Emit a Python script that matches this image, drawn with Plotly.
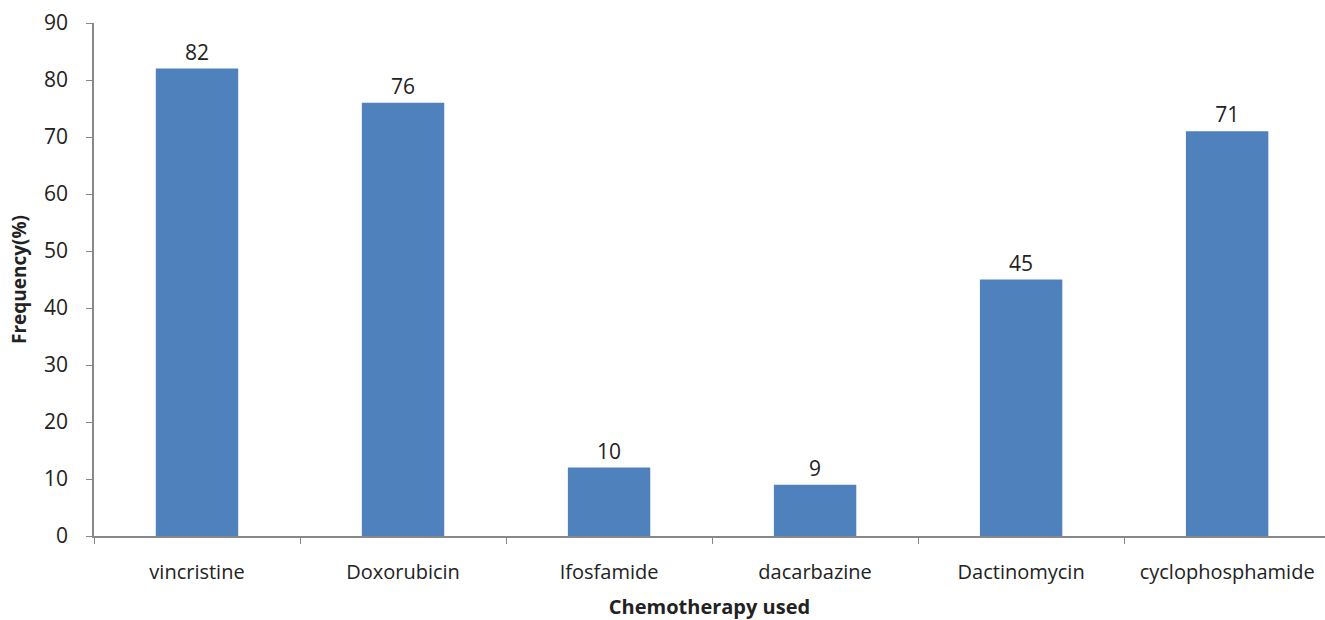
import plotly.graph_objects as go

categories = ["vincristine", "Doxorubicin", "Ifosfamide", "dacarbazine", "Dactinomycin", "cyclophosphamide"]
values = [82, 76, 12, 9, 45, 71]
label_text = ["82", "76", "10", "9", "45", "71"]
y_ticks = [0, 10, 20, 30, 40, 50, 60, 70, 80, 90]

fig = go.Figure(go.Bar(
    x=categories, y=values, text=label_text, textposition="outside",
    marker=dict(color="#4F81BD", line=dict(width=0)),
    textfont=dict(family="Open Sans", size=21, color="#222222"),
    width=0.4, cliponaxis=False,
))

fig.update_layout(
    width=1325, height=620,
    margin=dict(l=94, r=0, t=23, b=84),
    plot_bgcolor="white", paper_bgcolor="white",
    showlegend=False,
    font=dict(family="Open Sans", size=20, color="#222222"),
)
fig.update_xaxes(
    range=[-0.5, 5.475],
    showline=True, linecolor="#888888", linewidth=1.5,
    ticks="outside", tickson="boundaries", ticklen=6, tickcolor="#888888",
    tickfont=dict(size=20), showgrid=False, ticklabelstandoff=17,
    title=dict(text="<b>Chemotherapy used</b>", font=dict(size=20), standoff=16),
)
fig.update_yaxes(
    range=[0, 90], tickvals=y_ticks, showline=True, linecolor="#888888", linewidth=1.5,
    ticks="outside", ticklen=6, tickcolor="#888888", showgrid=False, zeroline=False,
    tickfont=dict(size=21), ticklabelstandoff=14,
    title=dict(text="<b>Frequency(%)</b>", font=dict(size=19), standoff=12),
)

fig.write_html("out.html")
